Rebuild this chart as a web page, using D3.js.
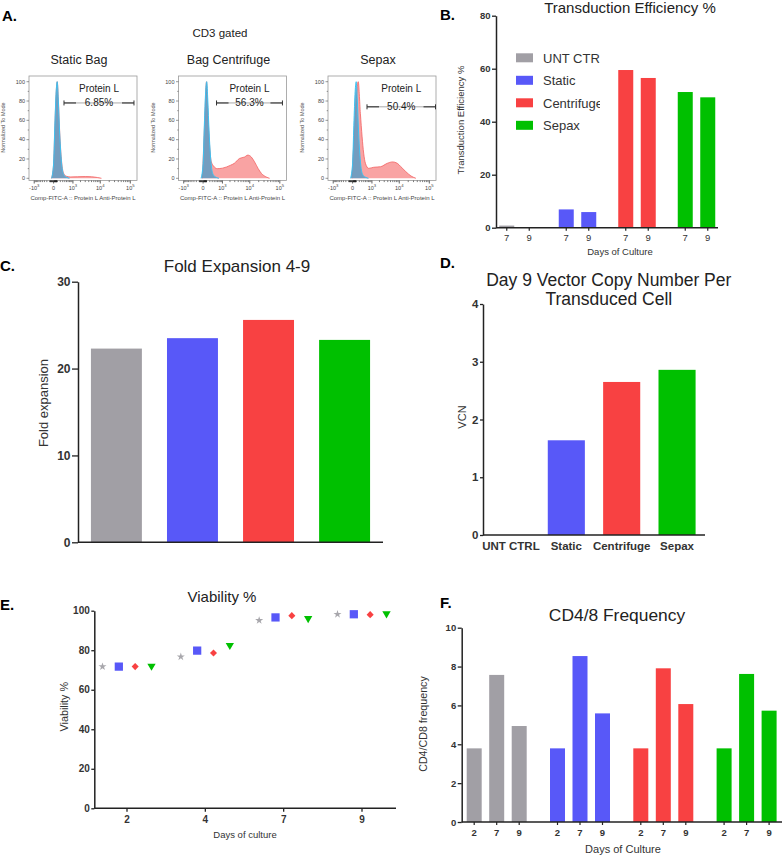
<!DOCTYPE html>
<html><head><meta charset="utf-8">
<script src="https://cdn.jsdelivr.net/npm/d3@7"></script>
<style>body{margin:0;background:#fff}svg{display:block}</style>
</head><body><svg id="c" width="782" height="856"></svg>
<script>
// ================= DATA =================
const groups = ["UNT CTRL", "Static", "Centrifuge", "Sepax"];
const groupColors = ["#a19fa5", "#5858f8", "#f84142", "#00c000"];

// Panel A – flow histograms (fluorescence value, % of mode)
const histTitles = ["Static Bag", "Bag Centrifuge", "Sepax"];
const histGatePct = ["6.85%", "56.3%", "50.4%"];
const histGateLow = [360, 530, 595];
const histGateHigh = [132000, 122000, 160000];
const histGateLevel = [78, 78, 74];
const histTickValues = [-1000, 0, 1000, 10000, 100000];
const histTickBase = ["-10", "0", "10", "10", "10"];
const histTickSup = ["3", "", "3", "4", "5"];
const histYTicks = [0, 20, 40, 60, 80, 100];
const ctrlX = [-50, 0, 30, 65, 95, 130, 170, 220, 275, 370, 515, 700];
const ctrlY = [0, 15, 55, 90, 100, 80, 50, 25, 10, 3, 1, 0];
const staticX = [-50, 0, 30, 65, 95, 130, 170, 220, 275, 370, 515, 800, 1500, 3000, 5000, 8000, 11000];
const staticY = [0, 14, 52, 88, 100, 82, 52, 27, 12, 4, 2, 1.4, 1.6, 1.8, 1.6, 0.8, 0];
const centX = [-15, 40, 89, 129, 188, 255, 376, 574, 1000, 2100, 2900, 4400, 6600, 8600, 11300, 14500, 19200, 24700, 36000, 46000];
const centY = [0, 60, 100, 70, 35, 17.6, 12.4, 10, 10.5, 13.5, 15.5, 20.5, 22, 24, 22, 17, 10, 5, 1.3, 0];
const sepaxX = [-15, 48, 160, 242, 317, 395, 494, 716, 1180, 2200, 3850, 5800, 8600, 11300, 16500, 24700, 36000];
const sepaxY = [0, 50, 100, 67, 43, 26, 15.5, 10.3, 11.4, 12, 15.5, 17, 15.5, 12, 7, 2.4, 0];

// Panel B – transduction efficiency %
const teDays = ["7", "9"];
const teUNT = [0.8, 0.2];
const teStatic = [6.9, 5.9];
const teCentrifuge = [59.5, 56.5];
const teSepax = [51.2, 49.2];
const teTicks = [0, 20, 40, 60, 80];

// Panel C – fold expansion
const foldExpansion = [22.3, 23.5, 25.6, 23.3];
const foldTicks = [0, 10, 20, 30];

// Panel D – VCN
const vcn = [0, 1.64, 2.65, 2.86];
const vcnTicks = [0, 1, 2, 3, 4];

// Panel E – viability %
const viabDays = ["2", "4", "7", "9"];
const viabUNT = [71.7, 76.7, 95.1, 98.2];
const viabStatic = [71.7, 79.8, 96.6, 98.2];
const viabCentrifuge = [71.7, 78.6, 97.5, 98.0];
const viabSepax = [72.0, 82.5, 96.1, 98.5];
const viabTicks = [0, 20, 40, 60, 80, 100];

// Panel F – CD4/CD8
const cdDays = ["2", "7", "9"];
const cdUNT = [3.79, 7.57, 4.94];
const cdStatic = [3.79, 8.54, 5.59];
const cdCentrifuge = [3.79, 7.91, 6.07];
const cdSepax = [3.79, 7.62, 5.73];
const cdTicks = [0, 2, 4, 6, 8, 10];

// ================= DRAW =================
const FONT = '"Liberation Sans", Arial, Helvetica, sans-serif';
const ink = "#333";
const svg = d3.select("#c").attr("font-family", FONT);

function txt(g, x, y, s, o = {}) {
  const t = g.append("text").attr("x", x).attr("y", y).text(s)
    .attr("font-size", o.size || 10).attr("font-weight", o.weight || "normal")
    .attr("text-anchor", o.anchor || "middle").attr("fill", o.fill || ink);
  if (o.rotate) t.attr("transform", `rotate(-90 ${x} ${y})`);
  return t;
}
function yAxis(g, scale, x, ticks, size, pad, fs) {
  const a = g.append("g").attr("transform", `translate(${x},0)`)
    .call(d3.axisLeft(scale).tickValues(ticks).tickFormat(d3.format("d"))
      .tickSize(size).tickPadding(pad).tickSizeOuter(0));
  a.attr("font-family", FONT).attr("font-size", fs);
  a.select(".domain").attr("stroke", "#222").attr("stroke-width", 1.5);
  a.selectAll(".tick line").attr("stroke", "#222").attr("stroke-width", 1.3);
  a.selectAll(".tick text").attr("font-weight", "bold").attr("fill", ink);
  return a;
}
function xLine(g, x0, x1, y) {
  g.append("line").attr("x1", x0).attr("x2", x1).attr("y1", y).attr("y2", y)
    .attr("stroke", "#222").attr("stroke-width", 1.5);
}
function panelLabel(x, y, s) { txt(svg, x, y, s, {size: 15, weight: "bold", anchor: "start", fill: "#000"}); }

// ---------- Panel A ----------
{
  const g = svg.append("g");
  panelLabel(2, 20.5, "A.");
  txt(g, 220, 36.5, "CD3 gated", {size: 11.5, fill: "#222"});
  const histLeft = 29, histStep = 149.5, histW = 108;
  const fTop = 76, fBot = 180.5;
  const ys = d3.scaleLinear().domain([0, 100]).range([178.3, 81.7]);
  const sampleX = [staticX, centX, sepaxX], sampleY = [staticY, centY, sepaxY];
  histTitles.forEach((title, i) => {
    const x0 = histLeft + i * histStep;
    const xs = d3.scaleSymlog().constant(300).domain([-1630, 166000]).range([x0, x0 + histW]);
    const h = g.append("g");
    txt(h, x0 + 50, 63.5, title, {size: 12.5, fill: "#222"});
    const cid = "hclip" + i;
    h.append("clipPath").attr("id", cid).append("rect")
      .attr("x", x0).attr("y", fTop).attr("width", histW).attr("height", fBot - fTop);
    const area = d3.area().x(d => xs(d[0])).y0(ys(0)).y1(d => ys(d[1])).curve(d3.curveMonotoneX);
    const line = d3.line().x(d => xs(d[0])).y(d => ys(d[1])).curve(d3.curveMonotoneX);
    const plot = h.append("g").attr("clip-path", `url(#${cid})`);
    const red = d3.zip(sampleX[i], sampleY[i]);
    const blue = d3.zip(ctrlX, ctrlY);
    plot.append("path").attr("d", area(red)).attr("fill", "#f9a3a3");
    plot.append("path").attr("d", line(red)).attr("fill", "none").attr("stroke", "#f26262").attr("stroke-width", 0.8);
    plot.append("path").attr("d", area(blue)).attr("fill", "#5d9cc4").attr("fill-opacity", 0.85);
    plot.append("path").attr("d", line(blue)).attr("fill", "none").attr("stroke", "#3cc2f2").attr("stroke-width", 1);
    // frame
    h.append("rect").attr("x", x0).attr("y", fTop).attr("width", histW).attr("height", fBot - fTop)
      .attr("fill", "none").attr("stroke", "#9a9a9a").attr("stroke-width", 0.8);
    // y ticks
    d3.range(0, 101, 10).forEach(v => {
      const major = v % 20 === 0;
      h.append("line").attr("x1", x0 - (major ? 2.5 : 1.3)).attr("x2", x0).attr("y1", ys(v)).attr("y2", ys(v))
        .attr("stroke", "#555").attr("stroke-width", 0.6);
    });
    histYTicks.forEach(v => txt(h, x0 - 4, ys(v) + 1.8, String(v), {size: 5.5, anchor: "end", fill: "#444"}));
    txt(h, x0 - 23.7, 127.5, "Normalized To Mode", {size: 5.5, fill: "#555", rotate: true});
    // x ticks (biexponential-like)
    const minor = [];
    [10, 100, 1000, 10000].forEach(p => d3.range(2, 10).forEach(m => { minor.push(m * p); }));
    [10, 100].forEach(p => d3.range(1, 10).forEach(m => minor.push(-m * p)));
    d3.range(1, 10).forEach(m => minor.push(m * 10));
    minor.forEach(v => {
      if (v <= -1630 || v >= 166000) return;
      h.append("line").attr("x1", xs(v)).attr("x2", xs(v)).attr("y1", fBot).attr("y2", fBot + 1.6)
        .attr("stroke", "#222").attr("stroke-width", 0.6);
    });
    histTickValues.forEach((v, k) => {
      h.append("line").attr("x1", xs(v)).attr("x2", xs(v)).attr("y1", fBot).attr("y2", fBot + 3)
        .attr("stroke", "#222").attr("stroke-width", 0.7);
      const t = h.append("text").attr("x", xs(v)).attr("y", 190).attr("text-anchor", "middle")
        .attr("font-size", 5.5).attr("fill", "#444");
      t.append("tspan").text(histTickBase[k]);
      if (histTickSup[k]) t.append("tspan").attr("dy", -3).attr("font-size", 4.2).text(histTickSup[k]);
    });
    txt(h, x0 + histW / 2, 199.5, "Comp-FITC-A :: Protein L  Anti-Protein L", {size: 6, fill: "#444"});
    // gate
    const gx0 = xs(histGateLow[i]), gx1 = xs(histGateHigh[i]), gy = ys(histGateLevel[i]);
    h.append("line").attr("x1", gx0).attr("x2", gx1).attr("y1", gy).attr("y2", gy).attr("stroke", "#aaa").attr("stroke-width", 1);
    [[gx0, gx0 + 12], [gx1 - 12, gx1]].forEach(([a, b]) =>
      h.append("line").attr("x1", a).attr("x2", b).attr("y1", gy).attr("y2", gy).attr("stroke", "#333").attr("stroke-width", 1.1));
    [gx0, gx1].forEach(x => h.append("line").attr("x1", x).attr("x2", x).attr("y1", gy - 2.5).attr("y2", gy + 2.5)
      .attr("stroke", "#333").attr("stroke-width", 1));
    const gc = (gx0 + gx1) / 2;
    txt(h, gc, 91.7, "Protein L", {size: 10, fill: "#222"});
    txt(h, gc, gy + 3, histGatePct[i], {size: 10, fill: "#222"});
  });
}

// ---------- Panel B ----------
{
  const g = svg.append("g");
  panelLabel(440, 20, "B.");
  txt(g, 630, 12.5, "Transduction Efficiency %", {size: 15, fill: "#222"});
  const y = d3.scaleLinear().domain([0, 80]).range([227.7, 15.7]);
  const gx = d3.scalePoint().domain(groups).range([518, 696.5]);
  const dx = d3.scalePoint().domain(teDays).range([-11.25, 11.25]);
  const series = [teUNT, teStatic, teCentrifuge, teSepax];
  series.forEach((vals, gi) => vals.forEach((v, di) => {
    const cx = gx(groups[gi]) + dx(teDays[di]);
    g.append("rect").attr("x", cx - 7.5).attr("width", 15).attr("y", y(v)).attr("height", y(0) - y(v))
      .attr("fill", groupColors[gi]);
    g.append("line").attr("x1", cx).attr("x2", cx).attr("y1", y(0)).attr("y2", y(0) + 3).attr("stroke", "#222").attr("stroke-width", 1.2);
    txt(g, cx, 240.5, teDays[di], {size: 9.5});
  }));
  yAxis(g, y, 496, teTicks, 4, 1.5, 9.5);
  xLine(g, 496, 718, y(0));
  txt(g, 620, 254.5, "Days of Culture", {size: 9.5});
  txt(g, 463.5, 120, "Transduction Efficiency %", {size: 9.5, rotate: true});
  // legend
  g.append("clipPath").attr("id", "legclip").append("rect").attr("x", 500).attr("y", 40).attr("width", 100).attr("height", 100);
  const lg = g.append("g").attr("clip-path", "url(#legclip)");
  groups.forEach((name, i) => {
    const yy = 53.3 + i * 22.5;
    lg.append("rect").attr("x", 516).attr("y", yy).attr("width", 17).attr("height", 9).attr("fill", groupColors[i]);
    txt(lg, 543, yy + 9.3, name, {size: 13, anchor: "start"});
  });
}

// ---------- Panel C ----------
{
  const g = svg.append("g");
  panelLabel(0, 270.5, "C.");
  txt(g, 237, 272, "Fold Expansion 4-9", {size: 17, fill: "#222"});
  const y = d3.scaleLinear().domain([0, 30]).range([542.3, 281.7]);
  const x = d3.scaleBand().domain(groups).range([78, 383]).paddingInner(0.33).paddingOuter(0.17);
  groups.forEach((gname, i) => {
    g.append("rect").attr("x", x(gname)).attr("width", x.bandwidth()).attr("y", y(foldExpansion[i]))
      .attr("height", y(0) - y(foldExpansion[i])).attr("fill", groupColors[i]);
  });
  yAxis(g, y, 78, foldTicks, 6, 1.5, 12);
  xLine(g, 78, 383, y(0));
  txt(g, 48, 403, "Fold expansion", {size: 13, rotate: true});
}

// ---------- Panel D ----------
{
  const g = svg.append("g");
  panelLabel(440, 267.5, "D.");
  txt(g, 608.8, 286, "Day 9 Vector Copy Number Per", {size: 17.5, fill: "#222"});
  txt(g, 608.8, 305, "Transduced Cell", {size: 17.5, fill: "#222"});
  const y = d3.scaleLinear().domain([0, 4]).range([535, 304]);
  const x = d3.scaleBand().domain(groups).range([483, 705]).paddingInner(0.33).paddingOuter(0.17);
  groups.forEach((gname, i) => {
    g.append("rect").attr("x", x(gname)).attr("width", x.bandwidth()).attr("y", y(vcn[i]))
      .attr("height", y(0) - y(vcn[i])).attr("fill", groupColors[i]);
    txt(g, x(gname) + x.bandwidth() / 2, 549.5, gname, {size: 11.5, weight: "bold"});
  });
  yAxis(g, y, 483, vcnTicks, 3, 1.5, 11.5);
  xLine(g, 483, 705, y(0));
  txt(g, 466, 417, "VCN", {size: 11, rotate: true});
}

// ---------- Panel E ----------
{
  const g = svg.append("g");
  panelLabel(0, 610, "E.");
  txt(g, 222, 601.7, "Viability %", {size: 15, fill: "#222"});
  const y = d3.scaleLinear().domain([0, 100]).range([808.3, 610.7]);
  const x = d3.scalePoint().domain(viabDays).range([127, 362]);
  const off = d3.scalePoint().domain(groups).range([-24.5, 24.5]);
  const series = [viabUNT, viabStatic, viabCentrifuge, viabSepax];
  const sym = [d3.symbol(d3.symbolStar, 20), d3.symbol(d3.symbolSquare, 68),
               d3.symbol(d3.symbolSquare, 25), d3.symbol(d3.symbolTriangle, 30)];
  const rot = [0, 0, 45, 180];
  const fills = ["#a8a7ac", "#5858f8", "#f84142", "#00c000"];
  series.forEach((vals, si) => vals.forEach((v, di) => {
    const px = x(viabDays[di]) + off(groups[si]);
    g.append("path").attr("d", sym[si]()).attr("fill", fills[si])
      .attr("transform", `translate(${px},${y(v)}) rotate(${rot[si]})`);
  }));
  yAxis(g, y, 94.3, viabTicks, 3, 1.5, 10);
  xLine(g, 94.3, 396, y(0));
  viabDays.forEach(d => {
    g.append("line").attr("x1", x(d)).attr("x2", x(d)).attr("y1", y(0)).attr("y2", y(0) + 3.5).attr("stroke", "#222").attr("stroke-width", 1.3);
    txt(g, x(d), 823, d, {size: 10, weight: "bold"});
  });
  txt(g, 245, 838, "Days of culture", {size: 9.5});
  txt(g, 68.2, 706.7, "Viability %", {size: 10.8, rotate: true});
}

// ---------- Panel F ----------
{
  const g = svg.append("g");
  panelLabel(440, 608, "F.");
  txt(g, 617, 620.7, "CD4/8 Frequency", {size: 17.4, fill: "#222"});
  const y = d3.scaleLinear().domain([0, 10]).range([822, 627.7]);
  const gx = d3.scalePoint().domain(groups).range([496.7, 746.6]);
  const dx = d3.scalePoint().domain(cdDays).range([-22.5, 22.5]);
  const series = [cdUNT, cdStatic, cdCentrifuge, cdSepax];
  series.forEach((vals, gi) => vals.forEach((v, di) => {
    const cx = gx(groups[gi]) + dx(cdDays[di]);
    g.append("rect").attr("x", cx - 7.5).attr("width", 15).attr("y", y(v)).attr("height", y(0) - y(v))
      .attr("fill", groupColors[gi]);
    g.append("line").attr("x1", cx).attr("x2", cx).attr("y1", y(0)).attr("y2", y(0) + 3).attr("stroke", "#222").attr("stroke-width", 1.2);
    txt(g, cx, 836, cdDays[di], {size: 9.5, weight: "bold"});
  }));
  yAxis(g, y, 461.7, cdTicks, 4, 1.5, 9.5);
  xLine(g, 461.7, 782, y(0));
  txt(g, 623, 853.3, "Days of Culture", {size: 11});
  txt(g, 427.2, 724, "CD4/CD8 frequency", {size: 10.7, rotate: true});
}
</script></body></html>
